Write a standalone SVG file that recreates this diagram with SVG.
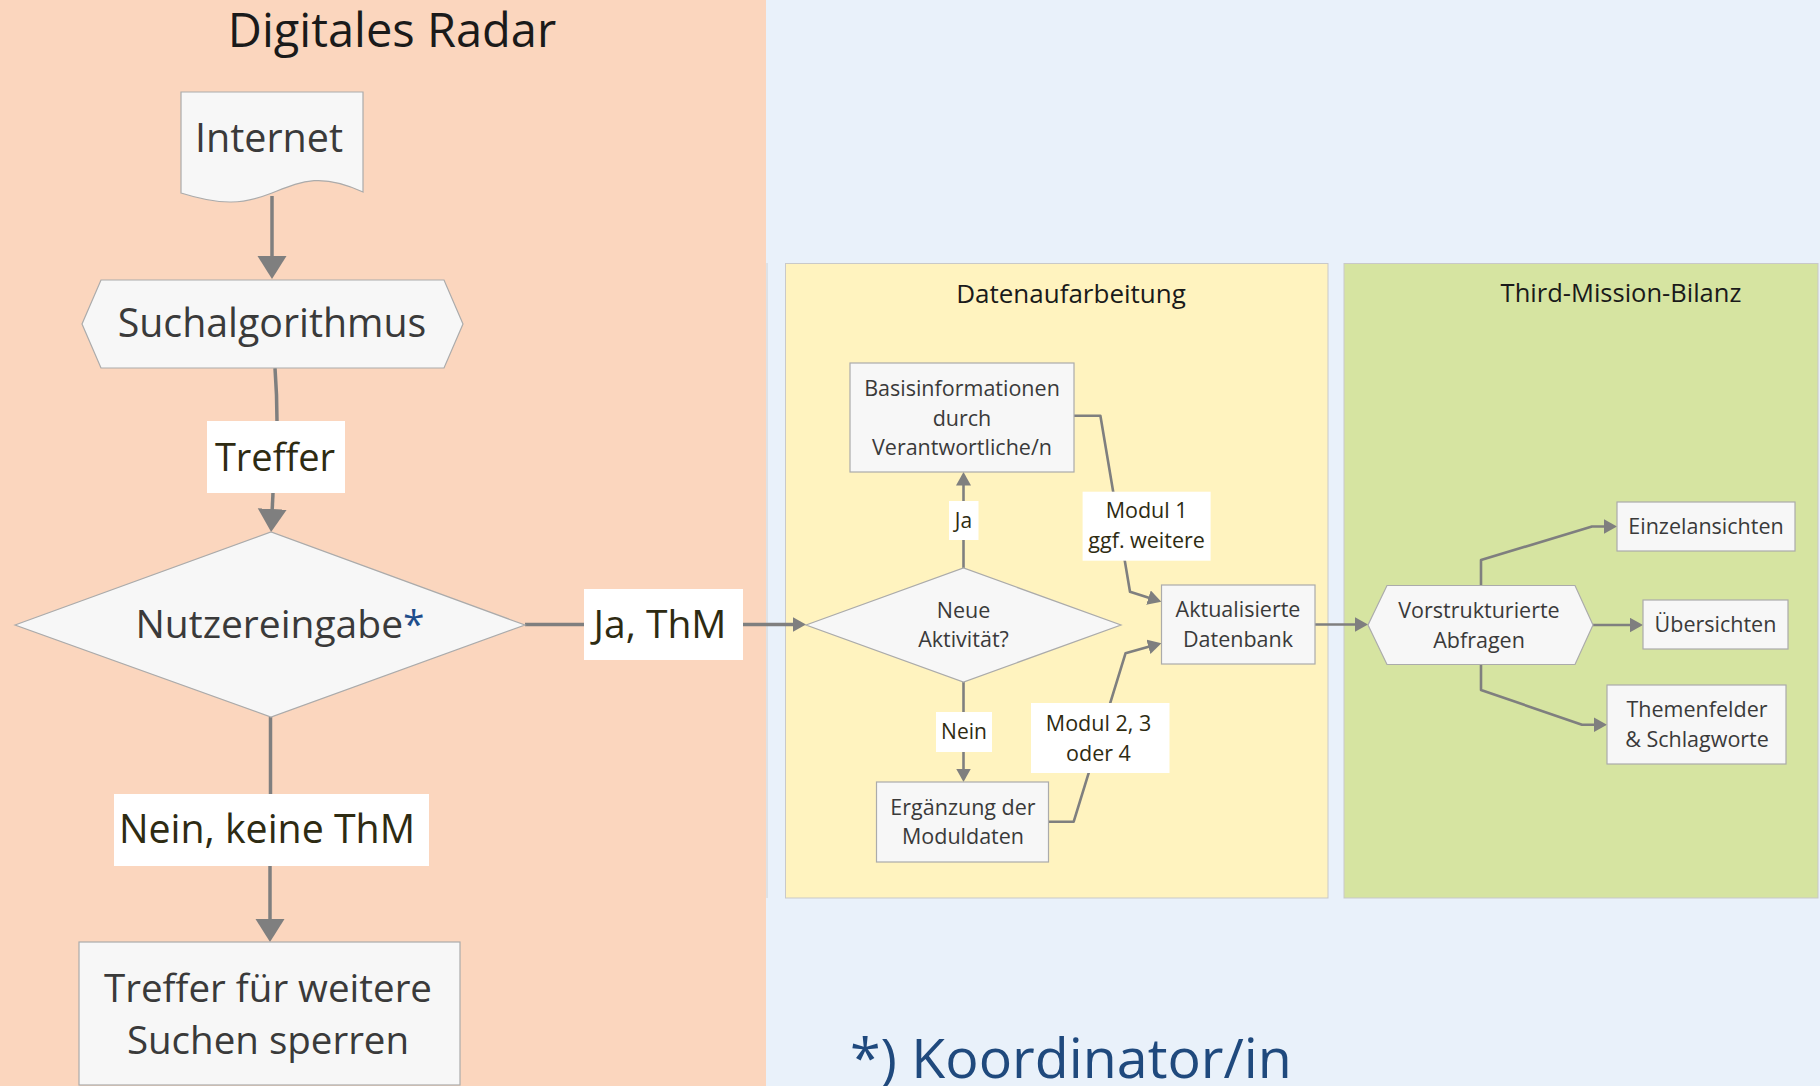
<svg xmlns="http://www.w3.org/2000/svg" width="1820" height="1086" viewBox="0 0 1820 1086">
<defs>
<style>
.node{fill:#F7F7F7;stroke:#ABABAB;stroke-width:1.2}
.lbl{fill:#FFFFFF}
.t{font-family:"Open Sans","Noto Sans","DejaVu Sans",sans-serif;fill:#3A3A3A;text-anchor:middle}
.big{font-size:38.5px}
.sm{font-size:21.5px}
.lt{fill:#2E2B12}
.ttl{fill:#1A1A1A}
.con{fill:none;stroke:#7F7F7F;stroke-linejoin:round}
.thick{stroke-width:3.5}
.thin{stroke-width:2.6}
.panel{stroke:#C9C9C9;stroke-width:1}
</style>
<marker id="ab" markerUnits="userSpaceOnUse" markerWidth="24" markerHeight="30" refX="15" refY="14.5" orient="auto"><path d="M0,0 L23,14.5 L0,29 Z" fill="#7F7F7F"/></marker>
<marker id="as" markerUnits="userSpaceOnUse" markerWidth="15" markerHeight="16" refX="8.5" refY="7.5" orient="auto"><path d="M0,0 L13.5,7.5 L0,15 Z" fill="#7F7F7F"/></marker>
</defs>

<g id="background">
<rect x="0" y="0" width="1820" height="1086" fill="#E9F1FA"/>
<rect x="0" y="0" width="766" height="1086" fill="#FBD6BE"/>
<line x1="767" y1="263" x2="767" y2="898" stroke="#D2D2D2" stroke-width="1"/>
<rect class="panel" x="785.5" y="263.5" width="542.5" height="634.5" fill="#FFF3BF"/>
<rect class="panel" x="1344" y="263.5" width="474" height="634.5" fill="#D6E4A1"/>
<text class="t ttl" x="392" y="47" style="font-size:47px">Digitales Radar</text>
<text class="t ttl" x="1071" y="303" style="font-size:26px">Datenaufarbeitung</text>
<text class="t ttl" x="1621" y="302" style="font-size:25.5px">Third-Mission-Bilanz</text>
</g>

<g id="connectors">
<path class="con thick" d="M272,196 V271" marker-end="url(#ab)"/>
<path class="con thick" d="M275,368 Q277,395 277,421"/>
<path class="con thick" d="M273,493 L271.5,524" marker-end="url(#ab)"/>
<path class="con thick" d="M525,624.5 H584"/>
<path class="con thick" d="M743,624.5 H801" marker-end="url(#as)"/>
<path class="con thick" d="M270.5,717 V794"/>
<path class="con thick" d="M270,866 V934" marker-end="url(#ab)"/>
<path class="con thin" d="M963.5,568 V477" marker-end="url(#as)"/>
<path class="con thin" d="M963.5,682 V777" marker-end="url(#as)"/>
<path class="con thin" d="M1073.7,415.7 H1100.4 L1130,591.7 L1156.6,600.2" marker-end="url(#as)"/>
<path class="con thin" d="M1048.6,821.7 H1073.7 L1125.5,653.3 L1156.6,644.6" marker-end="url(#as)"/>
<path class="con thin" d="M1315,624.5 H1363" marker-end="url(#as)"/>
<path class="con thin" d="M1481,585.5 V560 L1592,526.5 H1612" marker-end="url(#as)"/>
<path class="con thin" d="M1593,625 H1638" marker-end="url(#as)"/>
<path class="con thin" d="M1481,664.5 V690 L1582,724.7 H1602" marker-end="url(#as)"/>
</g>

<g id="edge-labels">
<g id="lbl-treffer"><rect class="lbl" x="207" y="421" width="138" height="72"/><text class="t lt" x="275" y="471" style="font-size:38px">Treffer</text></g>
<g id="lbl-jathm"><rect class="lbl" x="584" y="589" width="159" height="71"/><text class="t lt" x="660" y="638" style="font-size:39px">Ja, ThM</text></g>
<g id="lbl-neinthm"><rect class="lbl" x="114" y="794" width="315" height="72"/><text class="t lt" x="267" y="843" style="font-size:39.3px">Nein, keine ThM</text></g>
<g id="lbl-ja"><rect class="lbl" x="949" y="501" width="29.5" height="39"/><text class="t lt" x="963.5" y="527.5" style="font-size:21px">Ja</text></g>
<g id="lbl-nein"><rect class="lbl" x="936" y="712" width="56" height="40"/><text class="t lt" x="964" y="739" style="font-size:21px">Nein</text></g>
<g id="lbl-modul1"><rect class="lbl" x="1082.6" y="491.7" width="128" height="69"/><text class="t sm lt" x="1146.6" y="518.3">Modul 1</text><text class="t sm lt" x="1146.6" y="548.3">ggf. weitere</text></g>
<g id="lbl-modul2"><rect class="lbl" x="1031" y="703" width="138.5" height="70"/><text class="t sm lt" x="1098.5" y="731">Modul 2, 3</text><text class="t sm lt" x="1098.5" y="761">oder 4</text></g>
</g>

<g id="node-internet">
<path class="node" d="M181,92 H363 V192 C320,172 300,182 272,193 C244,204 222,206 181,193 Z"/>
<text class="t" x="269" y="152" style="font-size:39.5px">Internet</text>
</g>
<g id="node-suchalgorithmus">
<polygon class="node" points="82,324 101,280 444,280 463,324 444,368 101,368"/>
<text class="t" x="272" y="337" style="font-size:39.3px">Suchalgorithmus</text>
</g>
<g id="node-nutzereingabe">
<polygon class="node" points="15,625 271,532 525,625 271,717"/>
<text class="t" x="280" y="638" style="font-size:39px">Nutzereingabe<tspan fill="#1F4E8C">*</tspan></text>
</g>
<g id="node-sperren">
<rect class="node" x="79" y="942" width="381" height="143"/>
<text class="t big" x="268" y="1002">Treffer für weitere</text>
<text class="t big" x="268" y="1054">Suchen sperren</text>
</g>
<g id="node-basis">
<rect class="node" x="850" y="363" width="224" height="109"/>
<text class="t sm" x="962" y="396">Basisinformationen</text>
<text class="t sm" x="962" y="426">durch</text>
<text class="t sm" x="962" y="455">Verantwortliche/n</text>
</g>
<g id="node-neue">
<polygon class="node" points="806,625 963.5,568 1121,625 963.5,682"/>
<text class="t sm" x="963.5" y="618">Neue</text>
<text class="t sm" x="963.5" y="647">Aktivität?</text>
</g>
<g id="node-ergaenzung">
<rect class="node" x="876.5" y="782" width="172" height="80"/>
<text class="t sm" x="963" y="815">Ergänzung der</text>
<text class="t sm" x="963" y="844">Moduldaten</text>
</g>
<g id="node-datenbank">
<rect class="node" x="1161.5" y="585" width="153.5" height="79"/>
<text class="t sm" x="1238" y="617">Aktualisierte</text>
<text class="t sm" x="1238" y="647">Datenbank</text>
</g>
<g id="node-abfragen">
<polygon class="node" points="1368,625 1387,585.5 1575,585.5 1593,625 1575,664.5 1387,664.5"/>
<text class="t sm" x="1479" y="618">Vorstrukturierte</text>
<text class="t sm" x="1479" y="648">Abfragen</text>
</g>
<g id="node-einzel">
<rect class="node" x="1617" y="502" width="178" height="49"/>
<text class="t sm" x="1706" y="534">Einzelansichten</text>
</g>
<g id="node-uebersichten">
<rect class="node" x="1643" y="600" width="145" height="49"/>
<text class="t sm" x="1715.5" y="632">Übersichten</text>
</g>
<g id="node-themen">
<rect class="node" x="1607" y="685" width="179" height="79"/>
<text class="t sm" x="1697" y="717">Themenfelder</text>
<text class="t sm" x="1697" y="747">&amp; Schlagworte</text>
</g>

<g id="footnote">
<text x="850" y="1078" style="font-family:'Open Sans','Noto Sans',sans-serif;font-size:55.5px;fill:#1F497D">*) Koordinator/in</text>
</g>
</svg>
